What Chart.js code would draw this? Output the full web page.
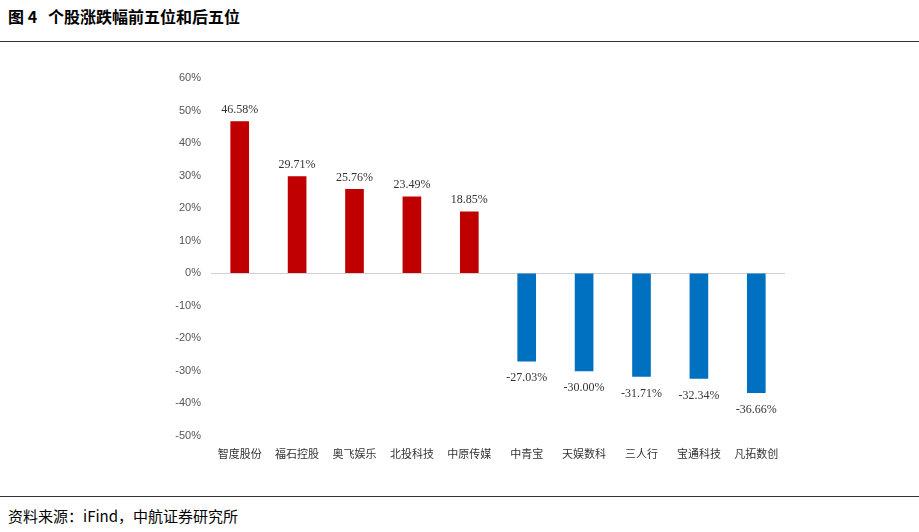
<!DOCTYPE html>
<html><head><meta charset="utf-8">
<script src="https://cdn.jsdelivr.net/npm/chart.js"></script>
<style>
body{margin:0;width:919px;height:532px;background:#fff;position:relative;overflow:hidden;font-family:"Noto Sans CJK SC",sans-serif}
#title{position:absolute;left:8px;top:4px;font-size:16px;font-weight:bold;color:#000}
.rule{position:absolute;left:0;width:919px;height:1px;background:#333}
#src{position:absolute;left:8px;top:505px;font-size:15px;color:#000}
canvas{position:absolute;left:0;top:0}
</style></head><body>
<div id="title">图 4&nbsp;&nbsp;&nbsp;个股涨跌幅前五位和后五位</div>
<div class="rule" style="top:41px"></div>
<div class="rule" style="top:496px"></div>
<div id="src">资料来源：iFind，中航证券研究所</div>
<div style="position:absolute;left:0;top:0;width:919px;height:532px"><canvas id="c"></canvas></div>
<script>
const stocks = ['智度股份','福石控股','奥飞娱乐','北投科技','中原传媒','中青宝','天娱数科','三人行','宝通科技','凡拓数创'];
const changes = [46.58, 29.71, 25.76, 23.49, 18.85, -27.03, -30.00, -31.71, -32.34, -36.66];
const yTicks = [60, 50, 40, 30, 20, 10, 0, -10, -20, -30, -40, -50];

const valueLabels = {
  id: 'valueLabels',
  afterDatasetsDraw(chart) {
    const ctx = chart.ctx;
    const meta = chart.getDatasetMeta(0);
    ctx.save();
    ctx.font = '12px "Liberation Serif", serif';
    ctx.fillStyle = '#333';
    ctx.textAlign = 'center';
    meta.data.forEach((bar, i) => {
      const v = changes[i];
      if (v >= 0) { ctx.textBaseline = 'bottom'; ctx.fillText(v.toFixed(2) + '%', bar.x, bar.y - 6); }
      else { ctx.textBaseline = 'top'; ctx.fillText(v.toFixed(2) + '%', bar.x, bar.y + 11); }
    });
    ctx.restore();
  }
};

new Chart(document.getElementById('c'), {
  type: 'bar',
  data: {
    labels: stocks,
    datasets: [{
      data: changes,
      backgroundColor: changes.map(v => v >= 0 ? '#C00000' : '#0070C0'),
      barThickness: 18
    }]
  },
  options: {
    responsive: true,
    maintainAspectRatio: false,
    animation: false,
    layout: { padding: { left: 150, right: 134, top: 78, bottom: 66 } },
    plugins: { legend: { display: false }, tooltip: { enabled: false } },
    scales: {
      x: {
        grid: { display: false },
        border: { display: false },
        ticks: { color: '#333', font: { size: 11, family: '"Noto Sans CJK SC"' }, maxRotation: 0 },
        afterFit: s => { s.height = 30; }
      },
      y: {
        min: -50, max: 60,
        afterBuildTicks: s => { s.ticks = yTicks.map(v => ({ value: v })); },
        grid: { color: c => c.tick && c.tick.value === 0 ? '#d0d0d0' : 'transparent', drawTicks: false },
        border: { display: false },
        ticks: { color: '#555', padding: 10, font: { size: 11, family: '"Liberation Sans"' }, callback: v => v + '%' },
        afterFit: s => { s.width = 61; }
      }
    }
  },
  plugins: [valueLabels]
});
</script>
</body></html>
